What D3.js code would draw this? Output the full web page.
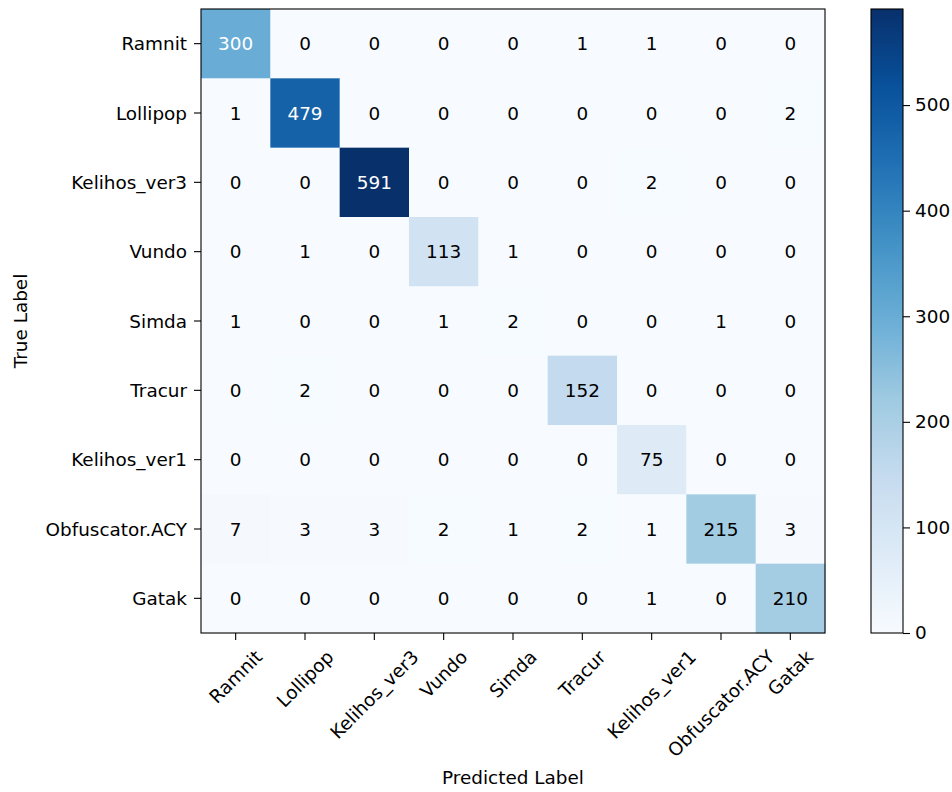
<!DOCTYPE html>
<html>
<head>
<meta charset="utf-8">
<script src="https://cdn.jsdelivr.net/npm/d3@7"></script>
<style>
  html, body { margin: 0; padding: 0; background: #fff; }
  svg text { font-family: "DejaVu Sans", sans-serif; }
</style>
</head>
<body>
<svg id="chart" width="952" height="792"></svg>
<script>
// Malware family classes (rows = true, columns = predicted)
const classes = ["Ramnit", "Lollipop", "Kelihos_ver3", "Vundo", "Simda",
                 "Tracur", "Kelihos_ver1", "Obfuscator.ACY", "Gatak"];

// Confusion matrix counts, one array per true class
const rowRamnit      = [300, 0, 0, 0, 0, 1, 1, 0, 0];
const rowLollipop    = [1, 479, 0, 0, 0, 0, 0, 0, 2];
const rowKelihos3    = [0, 0, 591, 0, 0, 0, 2, 0, 0];
const rowVundo       = [0, 1, 0, 113, 1, 0, 0, 0, 0];
const rowSimda       = [1, 0, 0, 1, 2, 0, 0, 1, 0];
const rowTracur      = [0, 2, 0, 0, 0, 152, 0, 0, 0];
const rowKelihos1    = [0, 0, 0, 0, 0, 0, 75, 0, 0];
const rowObfuscator  = [7, 3, 3, 2, 1, 2, 1, 215, 3];
const rowGatak       = [0, 0, 0, 0, 0, 0, 1, 0, 210];
const matrix = [rowRamnit, rowLollipop, rowKelihos3, rowVundo, rowSimda,
                rowTracur, rowKelihos1, rowObfuscator, rowGatak];

// Colour bar ticks
const colorbarTicks = [0, 100, 200, 300, 400, 500];

// Blues colour ramp stops
const bluesStops = ["#f7fbff", "#deebf7", "#c6dbef", "#9ecae1", "#6baed6",
                    "#4292c6", "#2171b5", "#08519c", "#08306b"];

const svg = d3.select("#chart");
const fontSize = 18.4;
const plotLeft = 201, plotTop = 9, plotSize = 624;
const plotRight = plotLeft + plotSize, plotBottom = plotTop + plotSize;

const vmax = d3.max(matrix.flat());
const ramp = d3.scaleLinear()
  .domain(d3.range(bluesStops.length).map(i => i / (bluesStops.length - 1)))
  .range(bluesStops)
  .interpolate(d3.interpolateRgb);
const color = v => ramp(v / vmax);

const x = d3.scaleBand().domain(d3.range(classes.length)).range([plotLeft, plotRight]);
const y = d3.scaleBand().domain(d3.range(classes.length)).range([plotTop, plotBottom]);

// Cells
const cells = [];
matrix.forEach((row, i) => row.forEach((v, j) => cells.push({ i, j, v })));

svg.append("g").selectAll("rect").data(cells).join("rect")
  .attr("x", d => x(d.j))
  .attr("y", d => y(d.i))
  .attr("width", x.bandwidth() + 0.5)
  .attr("height", y.bandwidth() + 0.5)
  .attr("fill", d => color(d.v));

const thresh = vmax / 2;
svg.append("g").selectAll("text").data(cells).join("text")
  .attr("x", d => x(d.j) + x.bandwidth() / 2)
  .attr("y", d => y(d.i) + y.bandwidth() / 2)
  .attr("text-anchor", "middle")
  .attr("dominant-baseline", "central")
  .attr("font-size", fontSize)
  .attr("fill", d => d.v > thresh ? "#ffffff" : "#000000")
  .text(d => d.v);

// Frame
svg.append("rect")
  .attr("x", plotLeft).attr("y", plotTop).attr("width", plotSize).attr("height", plotSize)
  .attr("fill", "none").attr("stroke", "#000").attr("stroke-width", 1.1);

// Y axis (true labels)
const yAxis = svg.append("g");
classes.forEach((c, i) => {
  const cy = y(i) + y.bandwidth() / 2;
  yAxis.append("line").attr("x1", plotLeft - 7).attr("x2", plotLeft)
    .attr("y1", cy).attr("y2", cy).attr("stroke", "#000").attr("stroke-width", 1.1);
  yAxis.append("text").attr("x", plotLeft - 14).attr("y", cy)
    .attr("text-anchor", "end").attr("dominant-baseline", "central")
    .attr("font-size", fontSize).attr("fill", "#000").text(c);
});

// X axis (predicted labels), rotated 45 degrees, bbox centred under each tick
const xAxis = svg.append("g");
const labelTop = plotBottom + 13;
const lineH = fontSize * 1.164;
classes.forEach((c, j) => {
  const cx = x(j) + x.bandwidth() / 2;
  xAxis.append("line").attr("x1", cx).attr("x2", cx)
    .attr("y1", plotBottom).attr("y2", plotBottom + 7).attr("stroke", "#000").attr("stroke-width", 1.1);
  const t = xAxis.append("text")
    .attr("text-anchor", "middle").attr("dominant-baseline", "central")
    .attr("font-size", fontSize).attr("fill", "#000").text(c);
  const w = t.node().getComputedTextLength();
  const half = (w + lineH) * Math.SQRT1_2 / 2;
  const cy = labelTop + half;
  t.attr("x", cx).attr("y", cy).attr("transform", `rotate(-45,${cx},${cy})`);
});

// Axis titles
svg.append("text").attr("x", (plotLeft + plotRight) / 2).attr("y", 784)
  .attr("text-anchor", "middle").attr("font-size", fontSize).attr("fill", "#000")
  .text("Predicted Label");
svg.append("text")
  .attr("transform", `translate(27,${(plotTop + plotBottom) / 2}) rotate(-90)`)
  .attr("text-anchor", "middle").attr("font-size", fontSize).attr("fill", "#000")
  .text("True Label");

// Colour bar
const cbLeft = 871, cbWidth = 32;
const defs = svg.append("defs");
const grad = defs.append("linearGradient").attr("id", "blues")
  .attr("x1", 0).attr("y1", 1).attr("x2", 0).attr("y2", 0);
d3.range(0, 1.0001, 0.02).forEach(t => {
  grad.append("stop").attr("offset", t).attr("stop-color", ramp(t));
});
svg.append("rect").attr("x", cbLeft).attr("y", plotTop).attr("width", cbWidth).attr("height", plotSize)
  .attr("fill", "url(#blues)").attr("stroke", "#000").attr("stroke-width", 1.1);

const cbScale = d3.scaleLinear().domain([0, vmax]).range([plotBottom, plotTop]);
const cbAxis = d3.axisRight(cbScale).tickValues(colorbarTicks).tickSize(7).tickPadding(5);
const cbG = svg.append("g").attr("transform", `translate(${cbLeft + cbWidth},0)`).call(cbAxis);
cbG.select(".domain").remove();
cbG.selectAll(".tick line").attr("stroke", "#000").attr("stroke-width", 1.1);
cbG.selectAll(".tick text").attr("font-size", fontSize).attr("fill", "#000")
  .attr("font-family", "DejaVu Sans, sans-serif");
</script>
</body>
</html>
